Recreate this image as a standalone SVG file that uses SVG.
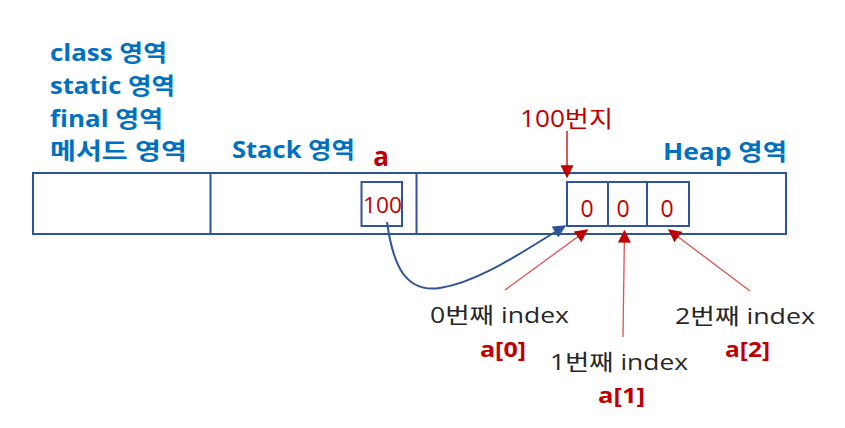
<svg xmlns="http://www.w3.org/2000/svg" width="845" height="428" viewBox="0 0 845 428">
<defs>
<style>
.t{font-family:"Open Sans","Noto Sans CJK KR",sans-serif;}
.blue{fill:#0070c0;font-weight:bold;font-size:23px;}
.red{fill:#c00000;}
.redb{fill:#c00000;font-weight:bold;font-size:22px;}
.blk{fill:#262626;font-size:22px;}
.box{fill:#fff;stroke:#2f5597;stroke-width:2;}
.ra{stroke:#e05050;stroke-width:1.3;fill:none;marker-end:url(#rh);}
</style>
<marker id="rh" viewBox="0 0 10 10" refX="9" refY="5" markerWidth="13" markerHeight="13" markerUnits="userSpaceOnUse" orient="auto">
<path d="M0,0 L10,5 L0,10 Z" fill="#c00000"/>
</marker>
<marker id="bh" viewBox="0 0 10 10" refX="9" refY="5" markerWidth="13" markerHeight="13" markerUnits="userSpaceOnUse" orient="auto">
<path d="M0,0 L10,5 L0,10 Z" fill="#2f5597"/>
</marker>
</defs>
<rect width="845" height="428" fill="#fff"/>
<g id="labels" class="t">
<text class="blue" x="50" y="61" textLength="117" lengthAdjust="spacingAndGlyphs">class 영역</text>
<text class="blue" x="50" y="94" textLength="125" lengthAdjust="spacingAndGlyphs">static 영역</text>
<text class="blue" x="50" y="127" textLength="113" lengthAdjust="spacingAndGlyphs">final 영역</text>
<text class="blue" x="50" y="159" textLength="137" lengthAdjust="spacingAndGlyphs">메서드 영역</text>
<text class="blue" x="232" y="158" textLength="123" lengthAdjust="spacingAndGlyphs">Stack 영역</text>
<text class="blue" x="663" y="160" textLength="124" lengthAdjust="spacingAndGlyphs">Heap 영역</text>
</g>
<g id="memory">
<rect class="box" x="33" y="173" width="753" height="61"/>
<line x1="210.5" y1="173" x2="210.5" y2="234" stroke="#2f5597" stroke-width="2"/>
<line x1="416.5" y1="173" x2="416.5" y2="234" stroke="#2f5597" stroke-width="2"/>
</g>
<g id="var-a">
<text class="t redb" x="381" y="166" text-anchor="middle" style="font-size:26px">a</text>
<rect class="box" x="361.5" y="182" width="40.5" height="44"/>
<text class="t red" x="363" y="213" font-size="22" textLength="39" lengthAdjust="spacingAndGlyphs">100</text>
</g>
<g id="heap-array">
<rect class="box" x="567" y="182" width="41" height="44"/>
<rect class="box" x="608" y="182" width="39" height="44"/>
<rect class="box" x="647" y="182" width="42" height="44"/>
<text class="t red" x="587" y="217" text-anchor="middle" font-size="23">0</text>
<text class="t red" x="623" y="217" text-anchor="middle" font-size="23">0</text>
<text class="t red" x="667" y="217" text-anchor="middle" font-size="23">0</text>
</g>
<g id="addr">
<text class="t red" x="520" y="127" font-size="23" textLength="93" lengthAdjust="spacingAndGlyphs">100번지</text>
</g>
<g id="index0">
<text class="t blk" x="430" y="323" textLength="139" lengthAdjust="spacingAndGlyphs">0번째 index</text>
<text class="t redb" x="480" y="357" textLength="46" lengthAdjust="spacingAndGlyphs">a[0]</text>
</g>
<g id="index1">
<text class="t blk" x="550" y="370" textLength="138" lengthAdjust="spacingAndGlyphs">1번째 index</text>
<text class="t redb" x="598" y="403" textLength="47" lengthAdjust="spacingAndGlyphs">a[1]</text>
</g>
<g id="index2">
<text class="t blk" x="675" y="324" textLength="140" lengthAdjust="spacingAndGlyphs">2번째 index</text>
<text class="t redb" x="725" y="357" textLength="45" lengthAdjust="spacingAndGlyphs">a[2]</text>
</g>
<g id="connectors">
<line x1="567" y1="131" x2="567" y2="177" stroke="#c00000" stroke-width="1.3" marker-end="url(#rh)"/>
<path d="M387,222 C393,265 405,293 440,288 C480,282 525,250 565,226" stroke="#2f5597" stroke-width="2" fill="none" marker-end="url(#bh)"/>
<line class="ra" x1="505" y1="290" x2="587" y2="230"/>
<line class="ra" x1="623" y1="337" x2="624.5" y2="231"/>
<line class="ra" x1="750" y1="291" x2="669" y2="230"/>
</g>
</svg>
